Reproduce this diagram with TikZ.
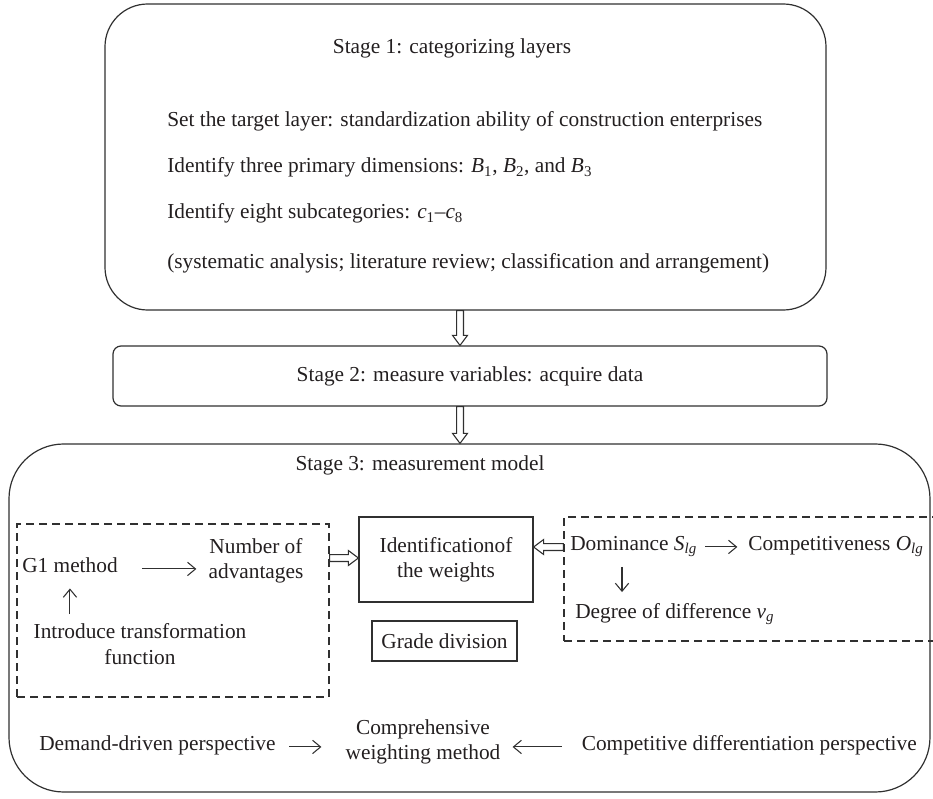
\documentclass[tikz,border=0pt]{standalone}
\usepackage{fontspec}
\setmainfont{Liberation Serif}
\usetikzlibrary{arrows.meta,calc}

\definecolor{ink}{HTML}{231F20}
\definecolor{edge}{HTML}{303030}

% italic variable with subscript
\newcommand\iv[2]{\textit{#1}\textsubscript{#2}}

% hollow block arrow from #1 to #2 (tip at #2)
\newcommand\blockarrow[2]{%
  \path ($(#2)!7.5pt!(#1)$) coordinate (bh);
  \draw[hollowarrow]
    ($(#1)!2.6pt!90:(#2)$) -- ($(bh)!2.6pt!90:(#2)$) -- ($(bh)!5.6pt!90:(#2)$)
    -- (#2)
    -- ($(bh)!5.6pt!-90:(#2)$) -- ($(bh)!2.6pt!-90:(#2)$) -- ($(#1)!2.6pt!-90:(#2)$)
    -- cycle;}

\tikzset{
  txt/.style={inner sep=0pt, font=\fontsize{16}{19}\selectfont, text=ink},
  stagebox/.style={draw=edge, line width=0.9pt, rounded corners=#1, inner sep=0pt,
    font=\fontsize{16}{19}\selectfont, text=ink},
  plainbox/.style={draw=edge, line width=0.9pt, inner sep=0pt, align=center,
    font=\fontsize{16}{19}\selectfont, text=ink},
  dashbox/.style={draw=edge, line width=0.9pt, dash pattern=on 6pt off 3.75pt, inner sep=0pt},
  hollowarrow/.style={draw=edge, fill=white, line width=0.8pt, line join=miter},
  thinarrow/.style={draw=edge, line width=0.8pt, -{Straight Barb[length=6pt,width=10pt]}},
}

\begin{document}
\begin{tikzpicture}[x=0.75pt,y=-0.75pt]
\useasboundingbox (0,0) rectangle (933,799);

% Stage 1
\node[stagebox=32pt, minimum width=540.75pt, minimum height=229.5pt] (s1) at (465.5,157) {};
\node[txt, anchor=base] (t1) at (452,54) {Stage 1: categorizing layers};
\node[txt, anchor=base west] (l1) at (167,127) {Set the target layer: standardization ability of construction enterprises};
\node[txt, anchor=base west] (l2) at (167,173) {Identify three primary dimensions: \iv{B}{1}, \iv{B}{2}, and \iv{B}{3}};
\node[txt, anchor=base west] (l3) at (167,219) {Identify eight subcategories: \iv{c}{1}–\iv{c}{8}};
\node[txt, anchor=base west] (l4) at (167,268) {(systematic analysis; literature review; classification and arrangement)};

% Stage 2
\node[stagebox=6pt, minimum width=535.5pt, minimum height=45pt] (s2) at (470,376) {Stage 2: measure variables: acquire data};

% Stage 3
\node[stagebox=41pt, minimum width=690.75pt, minimum height=261pt] (s3) at (469.5,618) {};
\node[txt, anchor=base] (t3) at (420,470) {Stage 3: measurement model};

% links between stages
\coordinate (ax) at (460,0);
\blockarrow{s1.south -| ax}{s2.north -| ax}
\blockarrow{s2.south -| ax}{s3.north -| ax}

% left group
\node[dashbox, minimum width=234pt, minimum height=129.75pt] (dashL) at (173,610.5) {};
\node[txt, anchor=base west] (g1) at (22,572) {G1 method};
\node[txt, align=center] (num) at (256,561) {Number of\\advantages};
\node[txt, align=center] (intro) at (140,644) {Introduce transformation\\function};
\draw[thinarrow, shorten <=18pt, shorten >=9pt] (g1.mid east) -- (num.west |- g1.mid east);
\draw[thinarrow, shorten <=7pt, shorten >=12pt] (intro.north -| g1.south) -- (g1.south);

% centre boxes
\node[plainbox, minimum width=130.5pt, minimum height=63.75pt] (idbox) at (446,559.5) {Identificationof\\the weights};
\node[plainbox, minimum width=108.75pt, minimum height=30pt] (grade) at (444.5,641) {Grade division};

% right group
\node[dashbox, minimum width=289.5pt, minimum height=93pt] (dashR) at (757,579) {};
\node[txt, anchor=base west] (dom) at (570,550) {Dominance \iv{S}{\textit{lg}}};
\node[txt, anchor=base west] (comp) at (748,550) {Competitiveness \iv{O}{\textit{lg}}};
\node[txt, anchor=base west] (deg) at (575,618) {Degree of difference \iv{v}{\textit{g}}};
\coordinate (dx) at (622,0);
\draw[thinarrow, shorten <=6pt, shorten >=8pt] (dom.mid east) -- (comp.mid west);
\draw[thinarrow, shorten <=7.5pt, shorten >=8pt] (dom.south -| dx) -- (deg.north -| dx);

% block arrows into the weights box
\coordinate (ay) at (0,558);
\coordinate (by) at (0,547);
\blockarrow{dashL.east |- ay}{idbox.west |- ay}
\blockarrow{dashR.west |- by}{idbox.east |- by}

% bottom row
\node[txt, anchor=base west] (dem) at (39,750) {Demand-driven perspective};
\node[txt, align=center] (cw) at (423,742) {Comprehensive\\weighting method};
\node[txt, anchor=base east] (cdp) at (917,750) {Competitive differentiation perspective};
\draw[thinarrow, shorten <=10pt, shorten >=18pt] (dem.mid east) -- (cw.west |- dem.mid east);
\draw[thinarrow, shorten <=15pt, shorten >=9pt] (cdp.mid west) -- (cw.east |- cdp.mid west);
\end{tikzpicture}
\end{document}
